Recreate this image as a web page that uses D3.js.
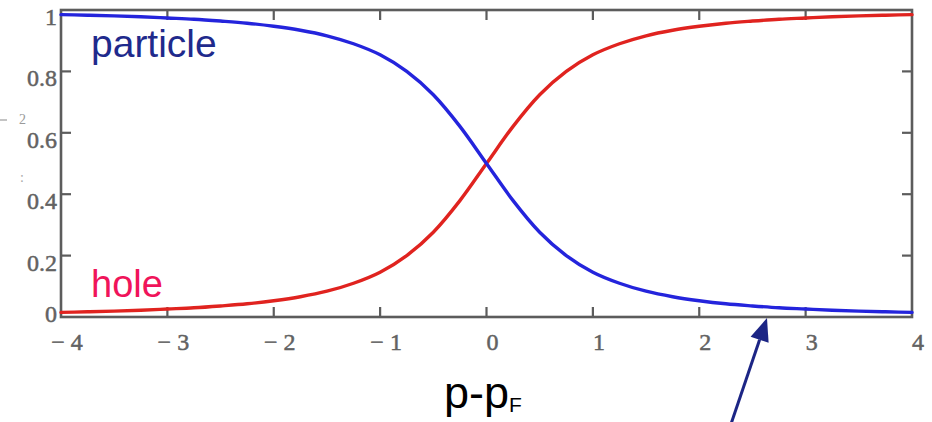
<!DOCTYPE html>
<html>
<head>
<meta charset="utf-8">
<script src="https://cdn.jsdelivr.net/npm/d3@7"></script>
<style>
  html, body { margin: 0; padding: 0; background: #fff; }
  svg { display: block; }
</style>
</head>
<body>
<svg id="chart" width="932" height="422"></svg>
<script>
// Momentum offset from the Fermi momentum
const momentum = [-4, -3.75, -3.5, -3.25, -3, -2.75, -2.5, -2.25, -2, -1.75, -1.5, -1.25, -1, -0.75, -0.5, -0.25,
  0, 0.25, 0.5, 0.75, 1, 1.25, 1.5, 1.75, 2, 2.25, 2.5, 2.75, 3, 3.25, 3.5, 3.75, 4];

// Particle weight (blue curve)
const particle = [0.985, 0.983, 0.981, 0.978, 0.974, 0.970, 0.964, 0.957, 0.947, 0.934, 0.916, 0.890, 0.854, 0.800, 0.724, 0.621,
  0.500, 0.379, 0.276, 0.200, 0.146, 0.110, 0.084, 0.066, 0.053, 0.043, 0.036, 0.030, 0.026, 0.022, 0.019, 0.017, 0.015];

// Hole weight (red curve)
const hole = [0.015, 0.017, 0.019, 0.022, 0.026, 0.030, 0.036, 0.043, 0.053, 0.066, 0.084, 0.110, 0.146, 0.200, 0.276, 0.379,
  0.500, 0.621, 0.724, 0.800, 0.854, 0.890, 0.916, 0.934, 0.947, 0.957, 0.964, 0.970, 0.974, 0.978, 0.981, 0.983, 0.985];

const xTicks = [-4, -3, -2, -1, 0, 1, 2, 3, 4];
const xTickLabels = ["− 4", "− 3", "− 2", "− 1", "0", "1", "2", "3", "4"];
const yTicks = [0, 0.2, 0.4, 0.6, 0.8, 1];
const yTickLabels = ["0", "0.2", "0.4", "0.6", "0.8", "1"];

(function draw() {
  const svg = d3.select("#chart");
  const plotLeft = 61, plotRight = 912, plotTop = 10, plotBottom = 317;

  const x = d3.scaleLinear().domain([-4, 4]).range([plotLeft, plotRight]);
  const y = d3.scaleLinear().domain([0, 1]).range([plotBottom, plotTop]);

  const frameColor = "#5c5c5c";
  const tickLen = 10;

  // Ticks on all four sides, pointing inward
  const axes = svg.append("g").attr("stroke", frameColor).attr("stroke-width", 2.2);
  xTicks.slice(1, -1).forEach(v => {
    axes.append("line").attr("x1", x(v)).attr("x2", x(v)).attr("y1", plotBottom).attr("y2", plotBottom - tickLen);
    axes.append("line").attr("x1", x(v)).attr("x2", x(v)).attr("y1", plotTop).attr("y2", plotTop + tickLen);
  });
  yTicks.slice(1, -1).forEach(v => {
    axes.append("line").attr("x1", plotLeft).attr("x2", plotLeft + tickLen).attr("y1", y(v)).attr("y2", y(v));
    axes.append("line").attr("x1", plotRight).attr("x2", plotRight - tickLen).attr("y1", y(v)).attr("y2", y(v));
  });

  // Frame
  svg.append("rect")
    .attr("x", plotLeft).attr("y", plotTop)
    .attr("width", plotRight - plotLeft).attr("height", plotBottom - plotTop)
    .attr("fill", "none").attr("stroke", frameColor).attr("stroke-width", 2.6);

  // Tick labels
  const tickFont = "'Liberation Serif', 'DejaVu Serif', serif";
  const tickColor = "#626262";
  svg.append("g").selectAll("text").data(xTicks).join("text")
    .attr("x", d => x(d) + 6)
    .attr("y", 350)
    .attr("text-anchor", "middle")
    .attr("font-family", tickFont)
    .attr("font-size", 24)
    .attr("fill", tickColor)
    .attr("stroke", tickColor).attr("stroke-width", 0.5)
    .text((d, i) => xTickLabels[i]);

  svg.append("g").selectAll("text").data(yTicks).join("text")
    .attr("x", 57)
    .attr("y", d => Math.min(Math.max(y(d) + 15, 20), 322))
    .attr("text-anchor", "end")
    .attr("font-family", tickFont)
    .attr("font-size", 24)
    .attr("fill", tickColor)
    .attr("stroke", tickColor).attr("stroke-width", 0.5)
    .text((d, i) => yTickLabels[i]);

  // Remnants of the clipped vertical axis title
  svg.append("text").attr("x", 19).attr("y", 124)
    .attr("font-family", tickFont).attr("font-size", 14).attr("fill", "#9a9a9a").text("2");
  svg.append("line").attr("x1", 0).attr("x2", 7).attr("y1", 120).attr("y2", 120)
    .attr("stroke", "#b0b0b0").attr("stroke-width", 1.5);
  svg.append("text").attr("x", 20).attr("y", 182)
    .attr("font-family", tickFont).attr("font-size", 14).attr("fill", "#a8a8a8").text(":");

  // Curves
  const line = d3.line()
    .x((d, i) => x(momentum[i]))
    .y(d => y(d))
    .curve(d3.curveMonotoneX);

  svg.append("path").datum(hole)
    .attr("d", line).attr("fill", "none")
    .attr("stroke", "#e0231f").attr("stroke-width", 3.4).attr("stroke-linecap", "round");

  svg.append("path").datum(particle)
    .attr("d", line).attr("fill", "none")
    .attr("stroke", "#2424dc").attr("stroke-width", 3.4).attr("stroke-linecap", "round");

  // Curve names
  const sans = "'Liberation Sans', Arial, sans-serif";
  svg.append("text").attr("x", 91).attr("y", 57)
    .attr("font-family", sans).attr("font-size", 39).attr("fill", "#1f2a8c").text("particle");
  svg.append("text").attr("x", 91).attr("y", 297)
    .attr("font-family", sans).attr("font-size", 38).attr("fill", "#f0145a").text("hole");

  // Horizontal axis title p - p_F
  const title = svg.append("text").attr("x", 444).attr("y", 408)
    .attr("font-family", sans).attr("font-size", 45).attr("fill", "#000");
  title.append("tspan").text("p-p");
  title.append("tspan").attr("font-size", 21).attr("dy", 4).text("F");

  // Arrow pointing at the tail of the particle curve
  const arrowColor = "#1c2585";
  const tip = [767, 318], tail = [731, 424];
  const ang = Math.atan2(tip[1] - tail[1], tip[0] - tail[0]);
  const headLen = 23, headHalf = 9.5;
  const baseX = tip[0] - headLen * Math.cos(ang), baseY = tip[1] - headLen * Math.sin(ang);
  svg.append("line")
    .attr("x1", tail[0]).attr("y1", tail[1]).attr("x2", baseX).attr("y2", baseY)
    .attr("stroke", arrowColor).attr("stroke-width", 3);
  svg.append("polygon")
    .attr("points", [
      tip,
      [baseX + headHalf * Math.sin(ang), baseY - headHalf * Math.cos(ang)],
      [baseX - headHalf * Math.sin(ang), baseY + headHalf * Math.cos(ang)]
    ].map(p => p.join(",")).join(" "))
    .attr("fill", arrowColor);
})();
</script>
</body>
</html>
